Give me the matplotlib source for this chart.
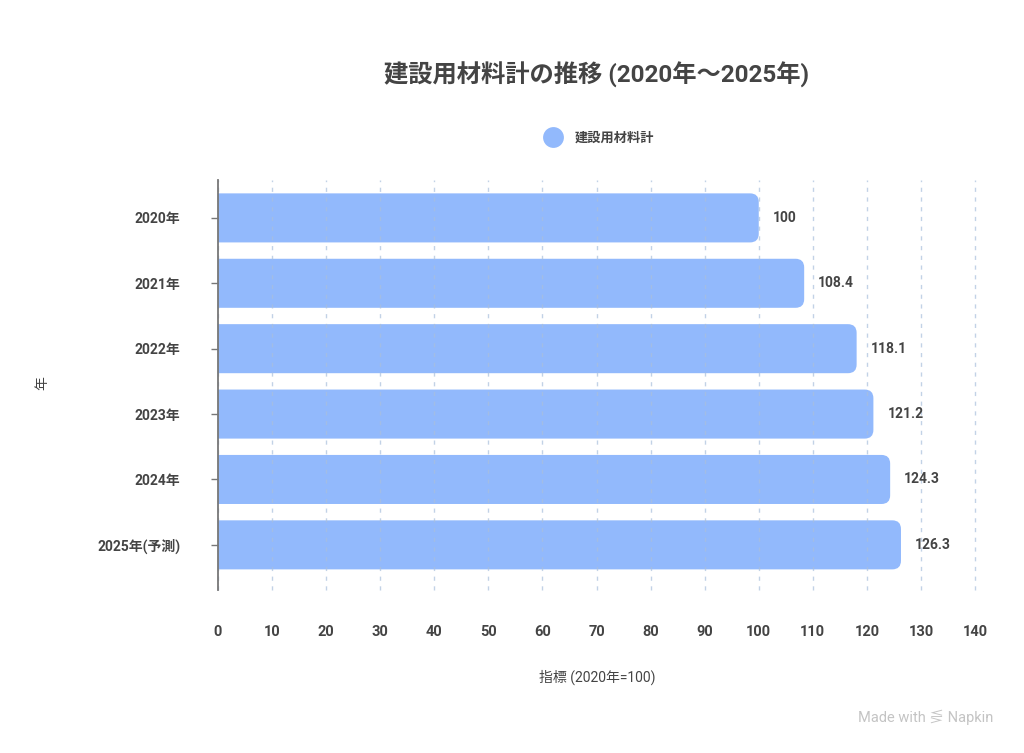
import matplotlib
matplotlib.use("Agg")
import matplotlib.pyplot as plt
from matplotlib.patches import FancyBboxPatch
from matplotlib.lines import Line2D

plt.rcParams['font.family'] = ['Roboto', 'Noto Sans CJK JP', 'DejaVu Sans']

# data
years = ['2020年', '2021年', '2022年', '2023年', '2024年', '2025年(予測)']
values = [100, 108.4, 118.1, 121.2, 124.3, 126.3]
value_labels = ['100', '108.4', '118.1', '121.2', '124.3', '126.3']
xticks = [0, 10, 20, 30, 40, 50, 60, 70, 80, 90, 100, 110, 120, 130, 140]

bar_color = '#92b9fc'
text_color = '#444444'

fig = plt.figure(figsize=(10.24, 7.53), dpi=100)
ax = fig.add_axes([0.2129, 0.2165, 0.7393, 0.5445])

ypos = list(range(len(years)))
bars = ax.barh(ypos, values, height=0.75, color=bar_color, zorder=2)

# swap the plain bars for ones with rounded ends
for b in bars:
    x0, y0 = b.get_x(), b.get_y()
    w, h = b.get_width(), b.get_height()
    b.set_visible(False)
    p = FancyBboxPatch((x0 - 3, y0), w + 3, h,
                       boxstyle="round,pad=0,rounding_size=1.6",
                       mutation_aspect=0.083,
                       facecolor=bar_color, edgecolor='none', zorder=2)
    ax.add_patch(p)

for y, v, lab in zip(ypos, values, value_labels):
    ax.text(v + 2.6, y, lab, va='center', ha='left', fontsize=10,
            fontweight='bold', color=text_color)

ax.set_xlim(0, 140)
ax.set_ylim(5.69, -0.58)
ax.set_xticks(xticks)
ax.set_xticklabels([str(t) for t in xticks], fontsize=10.5,
                   fontweight='bold', color=text_color)
ax.set_yticks(ypos)
ax.set_yticklabels(years, fontsize=10, fontweight='bold', color=text_color)

ax.tick_params(axis='x', length=0, pad=25)
ax.tick_params(axis='y', length=5, width=1, color='#777777', pad=22)

# grid sits on top of the bars, faintly
ax.set_axisbelow(False)
ax.grid(axis='x', color='#a9bfdc', alpha=0.7, linestyle=(0, (3, 4)),
        linewidth=1)
for gl in ax.get_xgridlines():
    gl.set_clip_on(False)

for s in ['top', 'right', 'bottom']:
    ax.spines[s].set_visible(False)
ax.spines['left'].set_color('#777777')
ax.spines['left'].set_linewidth(1.3)
ax.spines['left'].set_zorder(4)

fig.text(0.583, 0.900, '建設用材料計の推移 (2020年～2025年)', ha='center',
         va='center', fontsize=17.5, fontweight='bold', color=text_color)

handle = Line2D([], [], marker='o', linestyle='none', markersize=15,
                markerfacecolor=bar_color, markeredgecolor='none')
fig.legend([handle], ['建設用材料計'], loc='center', bbox_to_anchor=(0.583, 0.817),
           frameon=False, prop={'size': 9.5, 'weight': 'bold'},
           labelcolor=text_color, handletextpad=0.6)

fig.text(0.583, 0.101, '指標 (2020年=100)', ha='center', va='center',
         fontsize=10, color=text_color)
fig.text(0.041, 0.491, '年', ha='center', va='center', rotation=90,
         fontsize=10, color=text_color)

fig.text(0.970, 0.048, 'Made with ⋚ Napkin', ha='right', va='center',
         fontsize=10.5, color='#c4c4c4')

fig.savefig('out.png', dpi=100, facecolor='white')
